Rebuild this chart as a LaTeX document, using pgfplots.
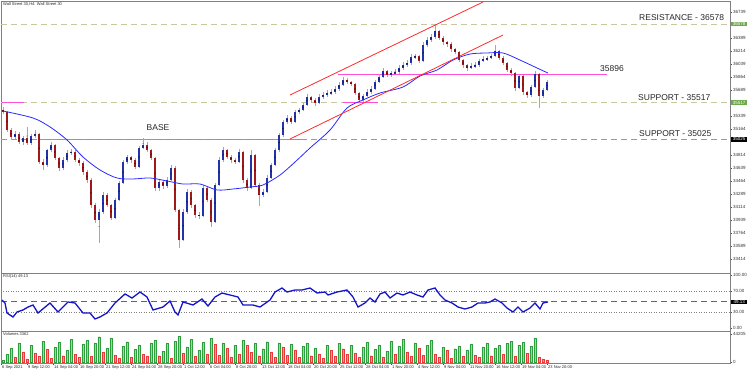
\documentclass[border=0pt]{standalone}
\usepackage{fontspec}
\setmainfont{Liberation Sans}
\usepackage{pgfplots}
\usepackage{pgfplotstable}
\pgfplotsset{compat=1.18}
\definecolor{upc}{HTML}{2233AA}
\definecolor{dnc}{HTML}{A01818}
\definecolor{wick}{HTML}{A8A8A8}
\definecolor{ma}{HTML}{2A2AFF}
\definecolor{chan}{HTML}{FF2A2A}
\definecolor{mag}{HTML}{FF4FD8}
\definecolor{khaki}{HTML}{C8C8A0}
\definecolor{lvlgray}{HTML}{9A9A9A}
\definecolor{boxgreen}{HTML}{6FA84F}
\definecolor{vgf}{HTML}{9BD89B}
\definecolor{vgd}{HTML}{2E9E3E}
\definecolor{vrf}{HTML}{FF9A9A}
\definecolor{vrd}{HTML}{E83A3A}
\definecolor{rsic}{HTML}{1414C8}
\definecolor{framec}{HTML}{808080}

\pgfplotstableread{
x o h l c v vu
3 35419 35460 35370 35392 3000 1
7 35392 35410 35120 35150 12000 1
11 35150 35180 35020 35056 22000 1
15 35056 35130 35030 35096 8000 0
19 35096 35120 34960 34989 30000 1
23 34989 35070 34950 35043 16000 0
27 35043 35190 34950 34975 5000 0
31 34975 35100 34950 35069 26000 1
35 35069 35150 35040 35096 14000 0
39 35096 35110 34690 34719 9000 0
43 34719 34760 34612 34679 33000 1
47 34679 34900 34650 34881 20000 0
51 34881 34990 34850 34948 6000 0
55 34948 34960 34740 34773 24000 1
59 34773 34790 34600 34639 31000 1
63 34639 34780 34610 34746 10000 0
67 34746 34880 34720 34841 18000 1
71 34841 34900 34810 34854 36000 1
75 34854 34880 34720 34746 12000 0
79 34746 34770 34670 34706 7000 0
83 34706 34730 34550 34585 28000 1
87 34585 34610 34440 34477 34000 1
91 34477 34500 34100 34141 9000 0
95 34141 34170 33900 33939 30000 1
99 33939 34080 33630 34046 40000 1
103 34046 34310 34020 34275 15000 0
107 34275 34300 34110 34141 22000 1
111 34141 34160 33940 33966 38000 1
115 33966 34240 33950 34208 11000 0
119 34208 34470 34190 34437 6000 0
123 34437 34750 34420 34719 25000 1
127 34719 34820 34690 34787 32000 1
131 34787 34800 34710 34746 8000 0
135 34746 34770 34620 34652 20000 1
139 34652 34940 34640 34908 27000 1
143 34908 35040 34890 34948 12000 0
147 34948 34990 34850 34881 9000 0
151 34881 34900 34740 34773 30000 1
155 34773 34790 34330 34369 35000 1
159 34369 34490 34330 34450 10000 0
163 34450 34480 34360 34396 17000 1
167 34396 34520 34370 34477 29000 1
171 34477 34680 34460 34639 6000 0
175 34639 34660 34040 34073 33000 1
179 34073 34090 33560 33670 41000 1
183 33670 34080 33650 34046 14000 0
187 34046 34350 34020 34316 24000 1
191 34316 34340 34100 34141 36000 1
195 34141 34160 33970 34006 9000 0
199 34006 34040 33950 33993 19000 1
203 33993 34410 33980 34369 31000 1
207 34369 34390 34180 34208 13000 0
211 34208 34230 33850 33912 37000 1
215 33912 34440 33900 34410 28000 0
219 34410 34780 34390 34746 11000 0
223 34746 34920 34720 34881 30000 1
227 34881 34900 34760 34787 22000 0
231 34787 34810 34710 34746 8000 0
235 34746 34770 34690 34719 26000 1
239 34719 34890 34700 34854 12000 0
243 34854 34870 34440 34477 34000 1
247 34477 34500 34330 34369 27000 0
251 34369 34880 34350 34814 15000 0
255 34814 34830 34380 34410 29000 1
259 34410 34430 34130 34275 10000 0
263 34275 34350 34250 34316 21000 1
267 34316 34540 34300 34504 32000 1
271 34504 34710 34490 34679 16000 0
275 34679 34910 34660 34881 8000 0
279 34881 35110 34860 35083 30000 1
283 35083 35290 35060 35258 24000 0
287 35258 35350 35230 35312 11000 0
291 35312 35340 35230 35258 28000 1
295 35258 35420 35240 35392 19000 0
299 35392 35450 35370 35419 7000 0
303 35419 35520 35400 35487 25000 1
307 35487 35630 35470 35594 30000 1
311 35594 35610 35520 35554 10000 0
315 35554 35580 35480 35514 22000 1
319 35514 35630 35500 35594 13000 0
323 35594 35660 35570 35621 6000 0
327 35621 35690 35600 35648 27000 1
331 35648 35700 35620 35662 18000 0
335 35662 35740 35640 35702 9000 0
339 35702 35800 35680 35756 29000 1
343 35756 35860 35740 35823 21000 0
347 35823 35850 35770 35796 12000 0
351 35796 35810 35740 35769 26000 1
355 35769 35780 35620 35648 14000 0
359 35648 35660 35510 35554 7000 0
363 35554 35640 35530 35608 24000 1
367 35608 35700 35590 35662 31000 1
371 35662 35740 35640 35702 10000 0
375 35702 35830 35690 35796 20000 1
379 35796 35900 35780 35864 27000 1
383 35864 35980 35850 35944 8000 0
387 35944 35960 35860 35891 17000 1
391 35891 35950 35870 35917 33000 1
395 35917 35970 35900 35931 12000 0
399 35931 36020 35910 35985 25000 1
403 35985 36060 35960 36025 36000 1
407 36025 36090 36000 36052 15000 0
411 36052 36170 36030 36133 9000 0
415 36133 36180 36110 36146 30000 1
419 36146 36160 36050 36079 22000 0
423 36079 36330 36060 36294 11000 0
427 36294 36400 36270 36362 26000 1
431 36362 36440 36340 36402 34000 1
435 36402 36564 36380 36483 13000 0
439 36483 36500 36360 36389 8000 0
443 36389 36410 36300 36335 23000 1
447 36335 36350 36270 36308 18000 0
451 36308 36330 36200 36240 6000 0
455 36240 36260 36170 36200 21000 1
459 36200 36220 36060 36092 25000 1
463 36092 36110 35990 36025 9000 0
467 36025 36040 35950 35985 19000 1
471 35985 36050 35970 36012 28000 1
475 36012 36060 35990 36025 11000 0
479 36025 36110 36000 36079 7000 0
483 36079 36140 36060 36106 24000 1
487 36106 36150 36080 36119 30000 1
491 36119 36180 36100 36146 10000 0
495 36146 36294 36130 36214 22000 1
499 36214 36230 36090 36119 26000 1
503 36119 36140 36020 36052 12000 0
507 36052 36070 35930 35958 29000 1
511 35958 35980 35880 35917 33000 1
515 35917 35930 35680 35716 9000 0
519 35716 35910 35700 35877 27000 1
523 35877 35890 35620 35662 31000 1
527 35662 35680 35580 35621 14000 0
531 35621 35760 35600 35729 25000 1
535 35729 35940 35710 35904 38000 1
539 35904 35920 35446 35608 8000 0
543 35608 35720 35580 35689 5000 0
547 35689 35830 35670 35796 3000 0
}\candles

\pgfplotstableread{
x r
2 52.8
5 47.2
7 28.3
13 20.8
17 30.2
23 34.0
28 39.6
33 43.4
38 28.3
50 47.2
58 30.2
68 49.1
75 47.2
83 28.3
90 28.3
95 17.0
100 20.8
107 28.3
115 47.2
125 64.2
132 56.6
140 67.9
147 58.5
153 34.0
163 39.6
170 50.9
175 30.2
178 24.5
183 49.1
193 43.4
202 54.7
208 41.5
215 58.5
222 66.0
238 58.5
243 43.4
253 43.4
260 39.6
270 52.8
275 67.9
282 75.5
287 67.9
295 71.7
302 71.7
310 75.5
317 66.0
325 67.9
328 62.3
337 67.9
347 71.7
353 58.5
358 39.6
365 47.2
370 56.6
375 49.1
380 64.2
385 67.9
390 56.6
397 66.0
403 62.3
410 67.9
417 62.3
423 58.5
428 71.7
435 75.5
440 62.3
445 52.8
452 47.2
458 39.6
465 35.8
472 39.6
478 47.2
485 47.2
490 49.1
495 54.7
502 47.2
507 37.7
513 30.2
518 39.6
523 30.2
530 37.7
535 47.2
540 35.8
543 47.2
548 49.1
}\rsidata

\pgfplotstableread{
x m
3 35406
33 35312
50 35191
67 35016
83 34787
100 34612
117 34504
133 34491
150 34504
167 34464
183 34423
200 34423
217 34343
233 34356
250 34383
263 34410
280 34544
295 34719
310 34908
330 35150
347 35446
363 35554
380 35648
403 35729
420 35877
437 35958
453 36092
470 36173
487 36187
503 36187
520 36092
537 35985
548 35917
}\madata

\pgfplotsset{
  panel/.style={scale only axis, anchor=south west, xmin=1, xmax=730, width=729pt,
    axis line style={draw=framec, line width=0.8pt},
    tick align=outside, ytick pos=right, yticklabel pos=right,
    scaled ticks=false,
    major tick length=2pt, tick style={draw=black!70, line width=0.3pt},
    yticklabel style={font=\fontsize{4.5}{5}\selectfont, text=black!80, inner sep=1pt},
    clip=false,
    /pgf/number format/assume math mode=true,
    /pgf/number format/1000 sep={}},
  candle/.style 2 args={only marks, mark=*, mark size=0.1pt, mark options={draw=none, fill=none},
    error bars/.cd, y dir=both, y explicit, error mark=none,
    error bar style={draw=#1, solid, line width=#2}}
}
\tikzset{
  tinyfont/.style={font=\fontsize{4}{5}\selectfont, text=black!85},
  annot/.style={font=\fontsize{8.5}{10}\selectfont, text=black!85, inner sep=0pt},
  axbox/.style={font=\fontsize{4.5}{5}\selectfont, text=white, inner sep=0.8pt, anchor=west, minimum width=16pt}
}

\begin{document}
\begin{tikzpicture}
\path[use as bounding box] (0,0) rectangle (750pt,372pt);

% ---------------- main price panel
\begin{axis}[panel, at={(1pt,99pt)}, height=272pt,
  ymin=33225, ymax=36887, xtick=\empty,
  ytick={33414,33589,33764,33939,34114,34289,34464,34639,34814,35164,35339,35689,35864,36039,36214,36389,36739},
  yticklabel style={/pgf/number format/.cd, fixed, precision=0, 1000 sep={}}]
% levels
\addplot[khaki, line width=0.8pt, dash pattern=on 6pt off 4pt] coordinates {(1,36578) (730,36578)};
\addplot[khaki, line width=0.8pt, dash pattern=on 6pt off 4pt] coordinates {(1,35517) (730,35517)};
\addplot[mag, line width=1.4pt] coordinates {(40,35025) (303,35025)};
\addplot[lvlgray, line width=0.8pt, dash pattern=on 6pt off 4pt] coordinates {(1,35025) (730,35025)};
\addplot[mag, line width=1pt] coordinates {(338,35896) (607,35896)};
\addplot[mag, line width=1pt] coordinates {(343,35517) (378,35517)};
\addplot[mag, line width=1pt] coordinates {(2,35517) (24,35517)};
% wicks
\addplot[candle={wick}{0.6pt}]
  table[x=x, y expr={(\thisrow{h}+\thisrow{l})/2}, y error expr={(\thisrow{h}-\thisrow{l})/2}] {\candles};
% up bodies
\addplot[restrict expr to domain={\thisrow{c}-\thisrow{o}}{0:100000}, candle={upc}{1.8pt}]
  table[x=x, y expr={(\thisrow{o}+\thisrow{c})/2}, y error expr={abs(\thisrow{c}-\thisrow{o})/2+4}] {\candles};
% down bodies
\addplot[restrict expr to domain={\thisrow{c}-\thisrow{o}}{-100000:-0.5}, candle={dnc}{1.8pt}]
  table[x=x, y expr={(\thisrow{o}+\thisrow{c})/2}, y error expr={abs(\thisrow{c}-\thisrow{o})/2+4}] {\candles};
% moving average
\addplot[ma, line width=0.8pt, smooth] table[x=x, y=m] {\madata};
% channel
\addplot[chan, line width=0.8pt] coordinates {(290,35621) (483,36873)};
\addplot[chan, line width=0.8pt] coordinates {(290,35029) (503,36429)};
% texts
\node[annot, anchor=west] at (axis cs:639,36658) {RESISTANCE - 36578};
\node[annot, anchor=west] at (axis cs:600,35971) {35896};
\node[annot, anchor=west] at (axis cs:638,35581) {SUPPORT - 35517};
\node[annot, anchor=west] at (axis cs:639,35096) {SUPPORT - 35025};
\node[annot, anchor=center] at (axis cs:158,35177) {BASE};
\node[tinyfont, anchor=west, inner sep=0pt] at (axis cs:3,36846) {Wall Street 30,H4: Wall Street 30};
\node[axbox, fill=boxgreen] at (axis cs:731,36578) {36578};
\node[axbox, fill=boxgreen] at (axis cs:731,35517) {35517};
\node[axbox, fill=black] at (axis cs:731,35025) {35025};
\end{axis}

% ---------------- RSI panel
\begin{axis}[panel, at={(1pt,41pt)}, height=58pt,
  ymin=-5.66, ymax=103.8, xtick=\empty, ytick={0,30,70,100},
  yticklabels={0.00,30.00,70.00,100.00}]
\addplot[gray, line width=0.5pt, dash pattern=on 1pt off 1.5pt] coordinates {(1,70) (730,70)};
\addplot[gray, line width=0.5pt, dash pattern=on 1pt off 1.5pt] coordinates {(1,30) (730,30)};
\addplot[gray!80!black, line width=0.6pt, dash pattern=on 6pt off 4pt] coordinates {(1,50) (730,50)};
\addplot[rsic, line width=1.3pt] table[x=x, y=r] {\rsidata};
\node[tinyfont, anchor=west, inner sep=0pt] at (axis cs:3,98) {RSI(14) 49.13};
\node[axbox, fill=black] at (axis cs:731,49.13) {49.13};
\end{axis}

% ---------------- volume panel
\begin{axis}[panel, at={(1pt,9pt)}, height=32pt,
  ymin=-1579, ymax=48949, ytick={0,44205}, yticklabels={0,44205},
  xtick={1,27,53,79,105,131,157,183,209,235,261,287,313,339,365,391,417,443,469,495,521,547},
  xticklabels={6 Sep 2021,9 Sep 12:00,14 Sep 04:00,16 Sep 20:00,21 Sep 12:00,24 Sep 04:00,28 Sep 20:00,1 Oct 12:00,6 Oct 04:00,8 Oct 20:00,13 Oct 12:00,18 Oct 04:00,20 Oct 20:00,25 Oct 12:00,28 Oct 04:00,1 Nov 20:00,4 Nov 12:00,9 Nov 04:00,11 Nov 20:00,16 Nov 12:00,19 Nov 04:00,23 Nov 20:00},
  xtick pos=bottom,
  xticklabel style={font=\fontsize{4}{5}\selectfont, text=black!85, anchor=north west, inner sep=1pt}]
\addplot[ybar, bar width=2.4pt, bar shift=0pt, fill=vgf, draw=vgd, line width=0.3pt,
  restrict expr to domain={\thisrow{vu}}{0.5:1.5}] table[x=x, y=v] {\candles};
\addplot[ybar, bar width=2.4pt, bar shift=0pt, fill=vrf, draw=vrd, line width=0.3pt,
  restrict expr to domain={\thisrow{vu}}{-0.5:0.5}] table[x=x, y=v] {\candles};
\node[tinyfont, anchor=west, inner sep=0pt] at (axis cs:3,44500) {Volumes 3362};
\end{axis}
\end{tikzpicture}
\end{document}
